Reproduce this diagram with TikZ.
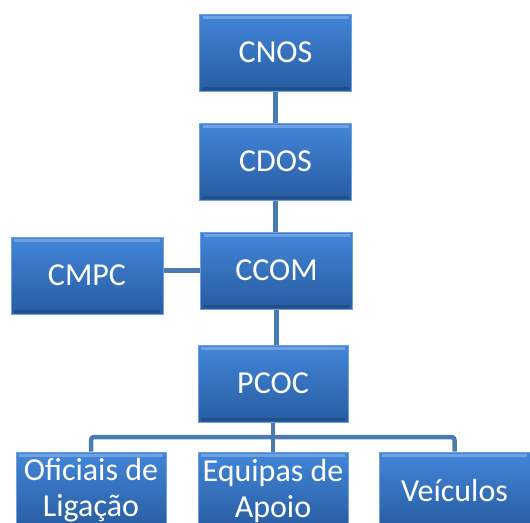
\documentclass[tikz,border=0pt]{standalone}
\usepackage{fontspec}
\setmainfont{Carlito}
\definecolor{boxtop}{RGB}{66,134,218}
\definecolor{boxbot}{RGB}{40,92,160}
\definecolor{boxedge}{RGB}{110,160,222}
\definecolor{linec}{RGB}{74,122,178}
\tikzset{
  orgbox/.style={rectangle, minimum width=152pt, minimum height=77pt, inner sep=0pt,
    top color=boxtop, bottom color=boxbot, draw=boxedge, line width=1pt,
    text=white, align=center, font=\fontsize{32}{36}\selectfont,
    path picture={
      \draw[white, opacity=0.25, line width=3pt]
        ([xshift=3pt,yshift=-3pt]path picture bounding box.north west) --
        ([xshift=-3pt,yshift=-3pt]path picture bounding box.north east);
      \draw[black, opacity=0.15, line width=3pt]
        ([xshift=3pt,yshift=3pt]path picture bounding box.south west) --
        ([xshift=-3pt,yshift=3pt]path picture bounding box.south east);
    }},
  conn/.style={draw=linec, line width=4.5pt}
}
\begin{document}
\begin{tikzpicture}[x=1pt,y=1pt]
\useasboundingbox (0,0) rectangle (530,-522);
\clip (0,0) rectangle (530,-522);
\node[orgbox] (cnos) at (275.5,-52.5) {CNOS};
\node[orgbox] (cdos) at (275.5,-161.5) {CDOS};
\node[orgbox] (ccom) at (276.5,-270.5) {CCOM};
\node[orgbox] (cmpc) at (87,-275.5) {CMPC};
\node[orgbox, minimum width=150pt] (pcoc) at (273,-383.5) {PCOC};
\node[orgbox, minimum width=150pt] (ofi) at (91,-490.5) {Oficiais de\\Ligação};
\node[orgbox, minimum width=150pt] (equ) at (273,-490.5) {Equipas de\\Apoio};
\node[orgbox, minimum width=151pt] (vei) at (454.5,-490.5) {Veículos};
\coordinate (bus) at (0,-437);
\draw[conn] (cnos.south) -- (cdos.north);
\draw[conn] (cdos.south) -- (ccom.north -| cdos.south);
\draw[conn] (ccom.west) -- (cmpc.east |- ccom.west);
\draw[conn] (ccom.south) -- (pcoc.north -| ccom.south);
\draw[conn] (pcoc.south) -- (equ.north);
\draw[conn, rounded corners=3pt] (ofi.north) |- (bus -| vei.north) -- (vei.north);
\end{tikzpicture}
\end{document}
